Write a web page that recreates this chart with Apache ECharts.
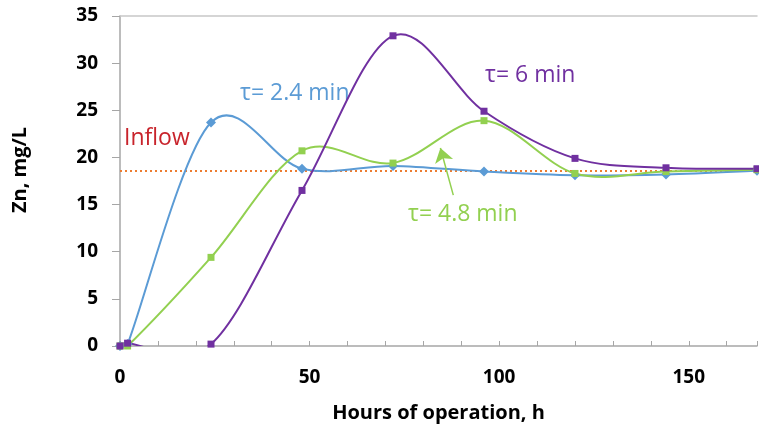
<!DOCTYPE html>
<html>
<head>
<meta charset="utf-8">
<script src="https://cdn.jsdelivr.net/npm/echarts@6/dist/echarts.min.js"></script>
<style>html,body{margin:0;padding:0;background:#fff}#c{width:759px;height:430px}</style>
</head>
<body>
<div id="c"></div>
<script>
// Data (hours of operation, Zn mg/L)
const hours = [0, 2, 24, 48, 72, 96, 120, 144, 168];
const tau24 = [0, 0.2, 23.7, 18.8, 19.1, 18.5, 18.1, 18.2, 18.6];
const tau48 = [0, 0.0, 9.4, 20.7, 19.4, 23.9, 18.3, 18.5, 18.7];
const tau6  = [0, 0.3, 0.2, 16.5, 32.9, 24.9, 19.9, 18.9, 18.8];
const inflowValue = 18.55;
const inflowRange = [0, 168];
const yTicks = [0, 5, 10, 15, 20, 25, 30, 35];
const xLabelStep = 50;
const arrowFrom = [87.9, 16.0];
const arrowTo = [84.5, 21.0];

const pair = (xs, ys) => xs.map((x, i) => [x, ys[i]]);
const FONT = '"Open Sans", "Liberation Sans", sans-serif';

// Excel-like (Catmull-Rom) smoothed curve drawn segment by segment through the axes' scales
function smoothCurve(name, ys, color, z) {
  const pts = pair(hours, ys);
  return {
    name: name, type: 'custom', data: pts, clip: true, z: z, silent: true,
    encode: {x: 0, y: 1},
    renderItem: function (params, api) {
      const i = params.dataIndex;
      if (i >= pts.length - 1) return null;
      const c = k => api.coord(pts[Math.max(0, Math.min(pts.length - 1, k))]);
      const p0 = c(i - 1), p1 = c(i), p2 = c(i + 1), p3 = c(i + 2);
      const t = 1 / 6;
      return {
        type: 'bezierCurve',
        shape: {
          x1: p1[0], y1: p1[1], x2: p2[0], y2: p2[1],
          cpx1: p1[0] + (p2[0] - p0[0]) * t, cpy1: p1[1] + (p2[1] - p0[1]) * t,
          cpx2: p2[0] - (p3[0] - p1[0]) * t, cpy2: p2[1] - (p3[1] - p1[1]) * t
        },
        style: {stroke: color, lineWidth: 2, fill: null}
      };
    }
  };
}
function markers(name, ys, color, symbol, size, z) {
  return {
    name: name, type: 'line', data: pair(hours, ys), symbol: symbol, symbolSize: size,
    showAllSymbol: true, itemStyle: {color: color}, lineStyle: {width: 0, opacity: 0}, z: z
  };
}

const chart = echarts.init(document.getElementById('c'), null, {renderer: 'canvas'});
chart.setOption({
  animation: false,
  backgroundColor: '#fff',
  grid: {left: 120, right: 2, top: 16, bottom: 84, outerBoundsMode: 'none', containLabel: false},
  xAxis: [{
    type: 'value', min: 0, max: 168, interval: 10,
    name: 'Hours of operation, h', nameLocation: 'middle', nameGap: 57,
    nameTextStyle: {fontFamily: FONT, fontWeight: 'bold', fontSize: 20, color: '#000'},
    axisLine: {lineStyle: {color: '#a6a6a6', width: 1.5}},
    axisTick: {inside: true, length: 5, lineStyle: {color: '#a6a6a6'}},
    splitLine: {show: false},
    axisLabel: {margin: 22, fontFamily: FONT, fontWeight: 'bold', fontSize: 19, color: '#000',
      formatter: v => (v % xLabelStep === 0 ? String(v) : '')}
  }, {
    type: 'value', position: 'top', min: 0, max: 168,
    axisLine: {show: true, lineStyle: {color: '#c8c8c8', width: 1.5}},
    axisTick: {show: false}, axisLabel: {show: false}, splitLine: {show: false}
  }],
  yAxis: {
    type: 'value', min: yTicks[0], max: yTicks[yTicks.length - 1], interval: 5,
    name: 'Zn, mg/L', nameLocation: 'middle', nameGap: 90,
    nameTextStyle: {fontFamily: FONT, fontWeight: 'bold', fontSize: 20, color: '#000', padding: [0, 0, 0, 22]},
    axisLine: {show: true, lineStyle: {color: '#a6a6a6', width: 1.5}},
    axisTick: {show: true, length: 8, lineStyle: {color: '#a6a6a6'}},
    splitLine: {show: false},
    axisLabel: {margin: 22, fontFamily: FONT, fontWeight: 'bold', fontSize: 19, color: '#000'}
  },
  series: [
    {
      name: 'Inflow', type: 'line', data: pair(inflowRange, [inflowValue, inflowValue]),
      symbol: 'none', lineStyle: {color: '#ED7D31', width: 2, type: [2, 3]}, z: 1
    },
    smoothCurve('τ= 2.4 min', tau24, '#5B9BD5', 3),
    smoothCurve('τ= 4.8 min', tau48, '#92D050', 4),
    smoothCurve('τ= 6 min', tau6, '#7030A0', 5),
    markers('τ= 2.4 min', tau24, '#5B9BD5', 'diamond', 10, 6),
    Object.assign(markers('τ= 4.8 min', tau48, '#92D050', 'rect', 7, 7), {
      markLine: {
        silent: true, symbol: ['none', 'arrow'], symbolSize: [14, 14],
        lineStyle: {color: '#92D050', width: 1.5, type: 'solid', opacity: 1},
        label: {show: false},
        data: [[{coord: arrowFrom}, {coord: arrowTo}]]
      }
    }),
    markers('τ= 6 min', tau6, '#7030A0', 'rect', 7, 8)
  ],
  graphic: [
    {type: 'text', left: 240, top: 82, style: {text: 'τ= 2.4 min', fill: '#5B9BD5', font: '23px ' + FONT}},
    {type: 'text', left: 124, top: 127, style: {text: 'Inflow', fill: '#C8232B', font: '23px ' + FONT}},
    {type: 'text', left: 485, top: 64, style: {text: 'τ= 6 min', fill: '#7030A0', font: '23px ' + FONT}},
    {type: 'text', left: 408, top: 203, style: {text: 'τ= 4.8 min', fill: '#92D050', font: '23px ' + FONT}}
  ]
});
</script>
</body>
</html>
